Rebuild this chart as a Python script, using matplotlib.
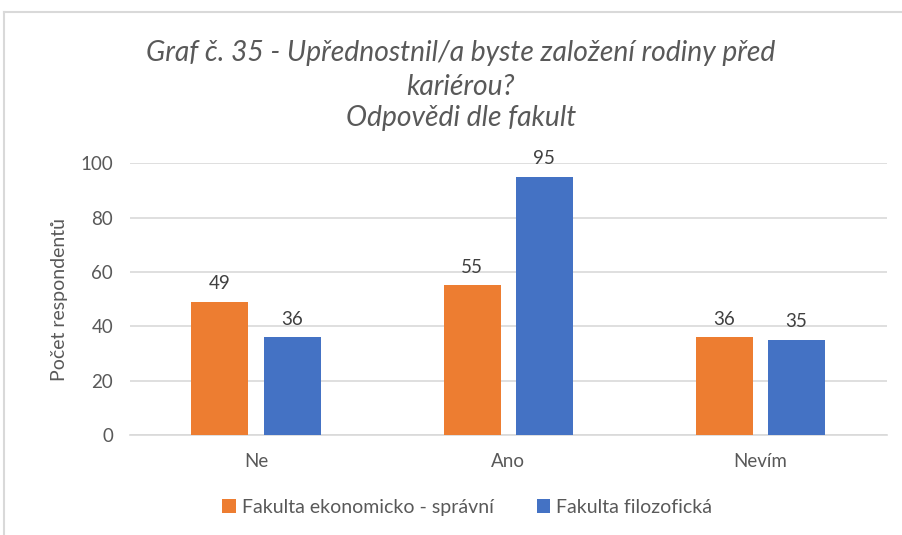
import numpy as np
import matplotlib.pyplot as plt
from matplotlib.lines import Line2D

# Odpovědi podle fakult
kategorie = ['Ne', 'Ano', 'Nevím']
fes = [49, 55, 36]   # Fakulta ekonomicko - správní
ff = [36, 95, 35]    # Fakulta filozofická
serie = ['Fakulta ekonomicko - správní', 'Fakulta filozofická']

plt.rcParams['font.family'] = ['Lato', 'DejaVu Sans']
seda = '#595959'

fig = plt.figure(figsize=(9.02, 5.35), dpi=100)
ax = fig.add_axes([0.144, 0.187, 0.839, 0.508])

x = np.arange(len(kategorie))
w = 0.226
b1 = ax.bar(x - 0.143, fes, w, color='#ED7D31', label=serie[0], zorder=3)
b2 = ax.bar(x + 0.143, ff, w, color='#4472C4', label=serie[1], zorder=3)

for bars in (b1, b2):
    for r in bars:
        ax.text(r.get_x() + r.get_width() / 2, r.get_height() + 3.5,
                f'{r.get_height():.0f}', ha='center', va='bottom',
                fontsize=13.5, color='#404040')

ax.set_xlim(-0.5, 2.5)
ax.set_ylim(0, 100)
ax.set_yticks(range(0, 101, 20))
ax.set_xticks(x)
ax.set_xticklabels(kategorie)
ax.tick_params(length=0, labelsize=13.5, labelcolor=seda)
ax.tick_params(axis='x', pad=13)
ax.tick_params(axis='y', pad=12)
ax.grid(axis='y', color='#d9d9d9', linewidth=1.2, zorder=0)
for s in ['top', 'right', 'left']:
    ax.spines[s].set_visible(False)
ax.spines['bottom'].set_color('#d9d9d9')
ax.spines['bottom'].set_linewidth(1.2)
ax.set_ylabel('Počet respondentů', fontsize=14, color=seda, labelpad=9)

titulek = ['Graf č. 35 - Upřednostnil/a byste založení rodiny před',
           'kariérou?', 'Odpovědi dle fakult']
for yy, t in zip([0.901, 0.837, 0.779], titulek):
    fig.text(0.511, yy, t, ha='center', va='center',
             fontsize=20.3, style='italic', color=seda)

fig.legend(handles=[b1, b2], loc='center', bbox_to_anchor=(0.518, 0.052),
           ncol=2, frameon=False, fontsize=14, labelcolor=seda,
           handlelength=0.7, handleheight=0.7, handletextpad=0.3,
           columnspacing=2.2)

# rámeček grafu
fig.add_artist(Line2D([0.0045, 1], [0.977, 0.977], color='#d9d9d9', lw=1.5,
                      transform=fig.transFigure))
fig.add_artist(Line2D([0.0045, 0.0045], [0, 0.977], color='#d9d9d9', lw=1.5,
                      transform=fig.transFigure))

fig.savefig('out.png', dpi=100)
